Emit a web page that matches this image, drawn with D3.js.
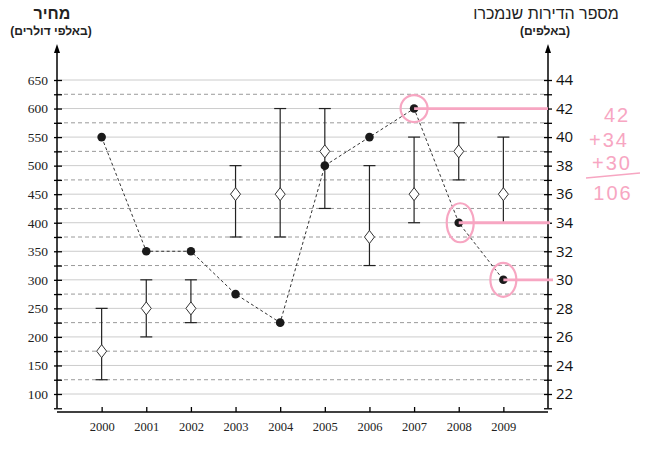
<!DOCTYPE html>
<html lang="he">
<head>
    <meta charset="UTF-8">
    <title>מחיר ומספר דירות שנמכרו</title>
    <script src="https://cdn.jsdelivr.net/npm/d3@7/dist/d3.min.js"></script>
    <style>
        body { margin: 0; background: #fff; }
        svg { display: block; }
    </style>
</head>
<body>
<script>

    // נתונים
    var years = [2000, 2001, 2002, 2003, 2004, 2005, 2006, 2007, 2008, 2009];
    var priceMid = [175, 250, 250, 450, 450, 525, 375, 450, 525, 450];
    var priceLow = [125, 200, 225, 375, 375, 425, 325, 400, 475, 400];
    var priceHigh = [250, 300, 300, 500, 600, 600, 500, 550, 575, 550];
    var sold = [40, 32, 32, 29, 27, 38, 40, 42, 34, 30];

    var leftTicks = [100, 150, 200, 250, 300, 350, 400, 450, 500, 550, 600, 650];
    var rightTicks = [22, 24, 26, 28, 30, 32, 34, 36, 38, 40, 42, 44];

    // הערות בכתב יד
    var markedYears = [2007, 2008, 2009];
    var sumLines = ["42", "+34", "+30", "106"];

    var width = 650, height = 461;
    var svg = d3.select("body").append("svg")
        .attr("width", width)
        .attr("height", height);

    // סקאלות
    var x = d3.scaleLinear().domain([1999, 2010]).range([57, 548]);
    var yL = d3.scaleLinear().domain([100, 650]).range([394, 80]);
    var yR = d3.scaleLinear().domain([22, 44]).range([394, 80]);
    var x0 = x(1999), x1 = x(2010);

    // קווי רשת
    var grid = svg.append("g");
    grid.selectAll("line.major")
        .data(leftTicks)
        .enter().append("line")
        .attr("x1", x0).attr("x2", x1)
        .attr("y1", d => yL(d)).attr("y2", d => yL(d))
        .attr("stroke", "#cccccc")
        .attr("stroke-width", 1);
    grid.selectAll("line.minor")
        .data(leftTicks.slice(0, -1).map(d => d + 25))
        .enter().append("line")
        .attr("x1", x0).attr("x2", x1)
        .attr("y1", d => yL(d)).attr("y2", d => yL(d))
        .attr("stroke", "#9a9a9a")
        .attr("stroke-width", 1)
        .attr("stroke-dasharray", "4,3");

    // ציר שמאלי
    var axL = svg.append("g")
        .attr("transform", "translate(" + x0 + ",0)")
        .call(d3.axisLeft(yL)
            .tickValues(d3.range(75, 651, 25))
            .tickSize(0)
            .tickPadding(9)
            .tickFormat(d => (d % 50 === 0 && d >= 100) ? d : ""));
    axL.select(".domain").remove();
    axL.selectAll(".tick line").attr("x1", -3).attr("x2", 5).attr("stroke", "#000").attr("stroke-width", 1.3);
    axL.selectAll(".tick text")
        .attr("font-family", "Liberation Serif, serif")
        .attr("font-size", 13.5)
        .attr("fill", "#222");

    // ציר ימני
    var axR = svg.append("g")
        .attr("transform", "translate(" + x1 + ",0)")
        .call(d3.axisRight(yR)
            .tickValues(d3.range(21, 44.01, 1))
            .tickSize(0)
            .tickPadding(8)
            .tickFormat(d => (d % 2 === 0) ? d : ""));
    axR.select(".domain").remove();
    axR.selectAll(".tick line").attr("x1", -4).attr("x2", 4).attr("stroke", "#000").attr("stroke-width", 1.3);
    axR.selectAll(".tick text")
        .attr("font-family", "Open Sans, sans-serif")
        .attr("font-size", 15)
        .attr("fill", "#111");

    // קווי הצירים האנכיים עם חץ
    [x0, x1].forEach(function (ax) {
        svg.append("line")
            .attr("x1", ax).attr("x2", ax)
            .attr("y1", 50).attr("y2", yL(75))
            .attr("stroke", "#000").attr("stroke-width", 1.5);
        svg.append("path")
            .attr("d", "M" + ax + ",44 L" + (ax - 3) + ",53 L" + (ax + 3) + ",53 Z")
            .attr("fill", "#000");
    });

    // ציר שנים
    var axB = svg.append("g")
        .attr("transform", "translate(0,412)")
        .call(d3.axisBottom(x).tickValues(years).tickSize(0).tickPadding(10).tickFormat(d3.format("d")));
    axB.select(".domain").attr("d", "M" + x0 + ",0H" + x1).attr("stroke", "#000").attr("stroke-width", 1.5);
    axB.selectAll(".tick line").attr("y1", -5).attr("y2", 0).attr("stroke", "#000").attr("stroke-width", 1.3);
    axB.selectAll(".tick text")
        .attr("font-family", "Liberation Serif, serif")
        .attr("font-size", 12.5)
        .attr("fill", "#222");

    // טווחי מחיר
    var bars = svg.append("g").attr("stroke", "#222").attr("stroke-width", 1.2);
    years.forEach(function (yr, i) {
        var cx = x(yr);
        bars.append("line").attr("x1", cx).attr("x2", cx)
            .attr("y1", yL(priceLow[i])).attr("y2", yL(priceHigh[i]));
        bars.append("line").attr("x1", cx - 6).attr("x2", cx + 6)
            .attr("y1", yL(priceLow[i])).attr("y2", yL(priceLow[i]));
        bars.append("line").attr("x1", cx - 6).attr("x2", cx + 6)
            .attr("y1", yL(priceHigh[i])).attr("y2", yL(priceHigh[i]));
    });

    // מעוינים
    svg.append("g").selectAll("path")
        .data(years)
        .enter().append("path")
        .attr("transform", (d, i) => "translate(" + x(d) + "," + yL(priceMid[i]) + ")")
        .attr("d", "M0,-6.5 L5,0 L0,6.5 L-5,0 Z")
        .attr("fill", "#fff")
        .attr("stroke", "#333")
        .attr("stroke-width", 1);

    // מספר דירות - קו מקווקו ונקודות
    var line = d3.line()
        .x((d, i) => x(years[i]))
        .y(d => yR(d));
    svg.append("path")
        .datum(sold)
        .attr("d", line)
        .attr("fill", "none")
        .attr("stroke", "#333")
        .attr("stroke-width", 1)
        .attr("stroke-dasharray", "3,2.5");
    svg.append("g").selectAll("circle")
        .data(sold)
        .enter().append("circle")
        .attr("cx", (d, i) => x(years[i]))
        .attr("cy", d => yR(d))
        .attr("r", 4.3)
        .attr("fill", "#1a1a1a");

    // סימונים ורודים
    var pink = "#f7a6c2";
    var radii = [[13.5, 13.5], [13.5, 19.5], [13, 17]];
    var lineEnds = [0, 2, 5];
    markedYears.forEach(function (yr, k) {
        var i = years.indexOf(yr);
        var cx = x(yr), cy = yR(sold[i]);
        svg.append("ellipse")
            .attr("cx", cx + (k === 1 ? 1.5 : 0)).attr("cy", cy)
            .attr("rx", radii[k][0]).attr("ry", radii[k][1])
            .attr("fill", "none")
            .attr("stroke", pink).attr("stroke-width", 2.2);
        svg.append("line")
            .attr("x1", cx).attr("x2", x1 + lineEnds[k])
            .attr("y1", cy).attr("y2", cy)
            .attr("stroke", pink).attr("stroke-width", 2.8);
    });

    var sumX = [617, 609, 612, 613];
    var sumY = [122, 147, 170, 200];
    svg.append("g").selectAll("text")
        .data(sumLines)
        .enter().append("text")
        .attr("x", (d, i) => sumX[i])
        .attr("y", (d, i) => sumY[i])
        .attr("text-anchor", "middle")
        .attr("font-family", "Liberation Sans, sans-serif")
        .attr("font-size", 20)
        .attr("letter-spacing", 2)
        .attr("fill", pink)
        .text(d => d);
    svg.append("line")
        .attr("x1", 586).attr("y1", 178).attr("x2", 640).attr("y2", 173)
        .attr("stroke", pink).attr("stroke-width", 1.5);

    // כותרות
    var heb = "Liberation Sans, DejaVu Sans, sans-serif";
    svg.append("text").attr("x", 52).attr("y", 19)
        .attr("text-anchor", "middle").attr("font-family", heb)
        .attr("font-size", 16).attr("font-weight", "bold").attr("fill", "#222")
        .text("מחיר");
    svg.append("text").attr("x", 51).attr("y", 35)
        .attr("text-anchor", "middle").attr("font-family", heb)
        .attr("font-size", 12).attr("font-weight", "bold").attr("fill", "#222")
        .text("(באלפי דולרים)");
    svg.append("text").attr("x", 546).attr("y", 19)
        .attr("text-anchor", "middle").attr("font-family", heb)
        .attr("font-size", 16).attr("fill", "#222")
        .text("מספר הדירות שנמכרו");
    svg.append("text").attr("x", 545).attr("y", 35)
        .attr("text-anchor", "middle").attr("font-family", heb)
        .attr("font-size", 12).attr("font-weight", "bold").attr("fill", "#222")
        .text("(באלפים)");

</script>
</body>
</html>
